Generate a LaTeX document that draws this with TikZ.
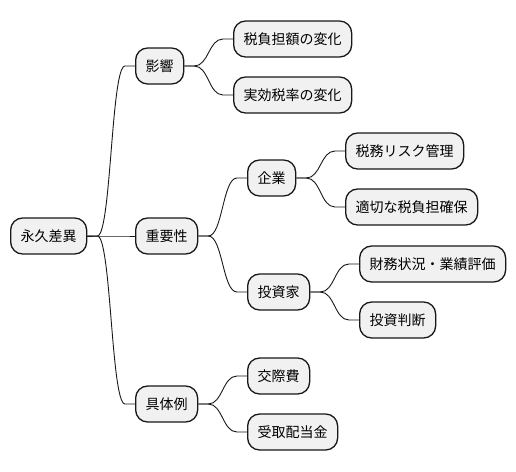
\documentclass[tikz,border=0pt]{standalone}
\usepackage{fontspec}
\setmainfont{Noto Sans CJK JP}
\usetikzlibrary{calc}
\definecolor{nodefill}{HTML}{F1F1F1}
\definecolor{nodeline}{HTML}{181818}
\begin{document}
\begin{tikzpicture}[x=1pt,y=-1pt,
  mnode/.style={draw=nodeline, line width=1.3pt, fill=nodefill, rounded corners=12pt,
    minimum height=36pt, inner xsep=10pt, inner ysep=0pt, anchor=west,
    font=\fontsize{14pt}{16pt}\selectfont},
  conn/.style={line width=0.9pt, draw=nodeline}]
\useasboundingbox (0,0) rectangle (516,471);
\newcommand\mmlink[2]{%
  \draw[conn] let \p1=(#1.east), \p2=(#2.west) in
    (\p1) -- (\x1+10pt,\y1)
    .. controls ({0.5*\x1+0.5*\x2},\y1) and ({0.5*\x1+0.5*\x2},\y2) ..
    (\x2-10pt,\y2) -- (\p2);}
% nodes
\node[mnode] (root) at (10,236) {永久差異};
\node[mnode] (eikyo) at (135,66) {影響};
\node[mnode] (juyo) at (135,236) {重要性};
\node[mnode] (gutai) at (135,404) {具体例};
\node[mnode] (zeifu) at (233,39) {税負担額の変化};
\node[mnode] (jikko) at (233,95) {実効税率の変化};
\node[mnode] (kigyo) at (247,178) {企業};
\node[mnode] (toshika) at (247,292) {投資家};
\node[mnode] (risk) at (345,151) {税務リスク管理};
\node[mnode] (tekisetsu) at (345,207) {適切な税負担確保};
\node[mnode] (zaimu) at (359,264) {財務状況・業績評価};
\node[mnode] (handan) at (359,320) {投資判断};
\node[mnode] (kosai) at (247,376) {交際費};
\node[mnode] (haito) at (247,432) {受取配当金};
% connectors
\mmlink{root}{eikyo}
\mmlink{root}{juyo}
\mmlink{root}{gutai}
\mmlink{eikyo}{zeifu}
\mmlink{eikyo}{jikko}
\mmlink{juyo}{kigyo}
\mmlink{juyo}{toshika}
\mmlink{kigyo}{risk}
\mmlink{kigyo}{tekisetsu}
\mmlink{toshika}{zaimu}
\mmlink{toshika}{handan}
\mmlink{gutai}{kosai}
\mmlink{gutai}{haito}
\end{tikzpicture}
\end{document}
